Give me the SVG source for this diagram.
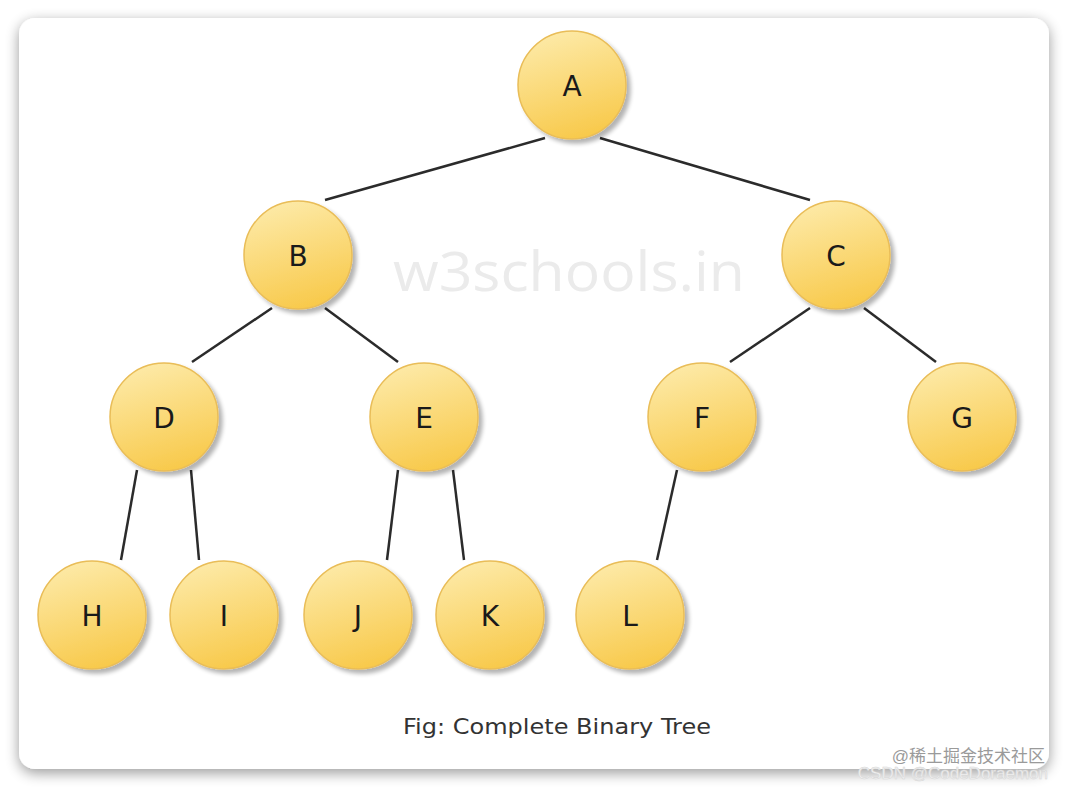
<svg xmlns="http://www.w3.org/2000/svg" width="1068" height="788" viewBox="0 0 1068 788">
<defs>
<filter id="cardShadow" x="-5%" y="-5%" width="110%" height="110%">
<feGaussianBlur in="SourceAlpha" stdDeviation="7"/>
<feOffset dx="0" dy="4" result="b"/>
<feComponentTransfer><feFuncA type="linear" slope="0.4"/></feComponentTransfer>
<feMerge><feMergeNode/><feMergeNode in="SourceGraphic"/></feMerge>
</filter>
<filter id="nodeShadow" x="-20%" y="-20%" width="150%" height="150%">
<feGaussianBlur in="SourceAlpha" stdDeviation="2"/>
<feOffset dx="4" dy="4" result="b"/>
<feComponentTransfer><feFuncA type="linear" slope="0.3"/></feComponentTransfer>
<feMerge><feMergeNode/><feMergeNode in="SourceGraphic"/></feMerge>
</filter>
<linearGradient id="gold" x1="0.3" y1="0" x2="0.6" y2="1">
<stop offset="0" stop-color="#fdeaa8"/>
<stop offset="1" stop-color="#f8c94a"/>
</linearGradient>
<style>
.node circle{fill:url(#gold);stroke:#e9bd58;stroke-width:1.5;filter:url(#nodeShadow)}
.node text{font-family:"DejaVu Sans","Liberation Sans",sans-serif;font-size:28px;fill:#1a1a1a;text-anchor:middle;dominant-baseline:central}
#edges line{stroke:#2b2b2b;stroke-width:2.5}
</style>
</defs>
<rect width="1068" height="788" fill="#ffffff"/>
<rect x="19" y="18" width="1030" height="751" rx="16" fill="#ffffff" filter="url(#cardShadow)"/>
<text x="569" y="291" font-family="'Open Sans','DejaVu Sans',sans-serif" font-size="54" fill="#ebebeb" text-anchor="middle" textLength="352" lengthAdjust="spacingAndGlyphs">w3schools.in</text>
<g id="edges">
<line x1="545" y1="138" x2="325" y2="200"/>
<line x1="600" y1="138" x2="810" y2="200"/>
<line x1="272" y1="308" x2="192" y2="362"/>
<line x1="325" y1="308" x2="398" y2="362"/>
<line x1="810" y1="308" x2="730" y2="362"/>
<line x1="864" y1="308" x2="936" y2="362"/>
<line x1="137" y1="470" x2="121" y2="560"/>
<line x1="191" y1="470" x2="199" y2="560"/>
<line x1="398" y1="470" x2="387" y2="560"/>
<line x1="453" y1="470" x2="464" y2="560"/>
<line x1="677" y1="470" x2="657" y2="560"/>
</g>
<g id="node-A" class="node"><circle cx="572" cy="85" r="54"/><text x="572" y="86">A</text></g>
<g id="node-B" class="node"><circle cx="298" cy="255" r="54"/><text x="298" y="256">B</text></g>
<g id="node-C" class="node"><circle cx="836" cy="255" r="54"/><text x="836" y="256">C</text></g>
<g id="node-D" class="node"><circle cx="164" cy="417" r="54"/><text x="164" y="418">D</text></g>
<g id="node-E" class="node"><circle cx="424" cy="417" r="54"/><text x="424" y="418">E</text></g>
<g id="node-F" class="node"><circle cx="702" cy="417" r="54"/><text x="702" y="418">F</text></g>
<g id="node-G" class="node"><circle cx="962" cy="417" r="54"/><text x="962" y="418">G</text></g>
<g id="node-H" class="node"><circle cx="92" cy="615" r="54"/><text x="92" y="616">H</text></g>
<g id="node-I" class="node"><circle cx="224" cy="615" r="54"/><text x="224" y="616">I</text></g>
<g id="node-J" class="node"><circle cx="358" cy="615" r="54"/><text x="358" y="616">J</text></g>
<g id="node-K" class="node"><circle cx="490" cy="615" r="54"/><text x="490" y="616">K</text></g>
<g id="node-L" class="node"><circle cx="630" cy="615" r="54"/><text x="630" y="616">L</text></g>
<text x="557" y="734" font-family="'DejaVu Sans','Liberation Sans',sans-serif" font-size="22" fill="#333333" text-anchor="middle" textLength="308" lengthAdjust="spacingAndGlyphs">Fig: Complete Binary Tree</text>
<text x="1045" y="762" font-family="'Liberation Sans','Noto Sans CJK SC',sans-serif" font-size="17" fill="#9a9a9a" text-anchor="end">@稀土掘金技术社区</text>
<text x="1048" y="779" font-family="'Liberation Sans',sans-serif" font-size="17" fill="#f2f2f2" stroke="#d6d6d6" stroke-width="0.5" text-anchor="end">CSDN @CodeDoraemon</text>
</svg>
